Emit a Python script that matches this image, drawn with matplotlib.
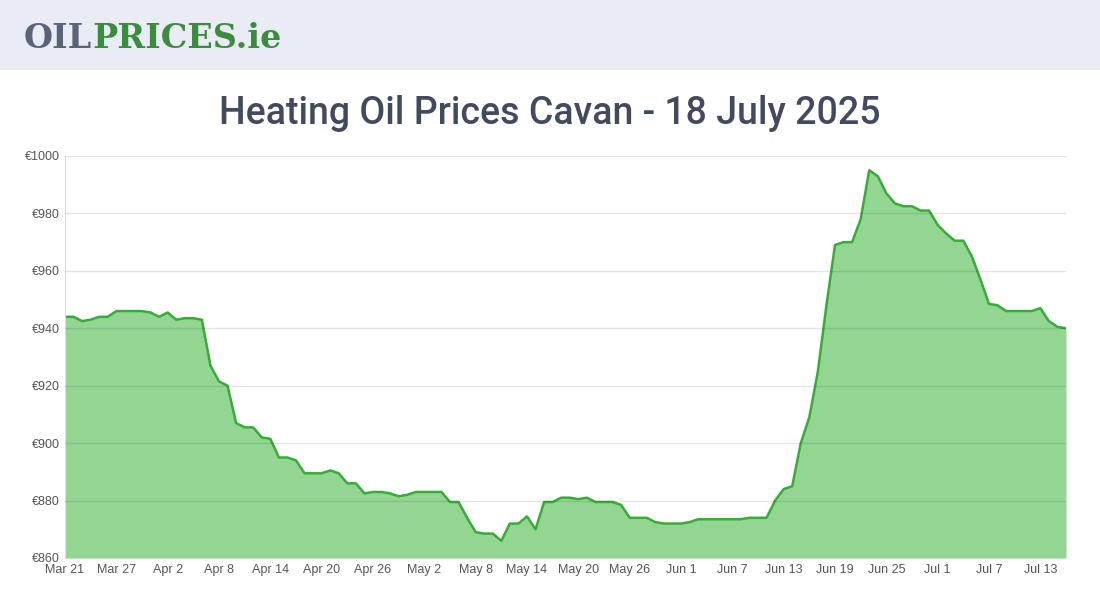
import numpy as np
import pandas as pd
import matplotlib
matplotlib.use("Agg")
import matplotlib.pyplot as plt

# daily prices, Mar 21 .. Jul 17 2025
start_date = "2025-03-21"
prices = [
    944, 944, 942.5, 943, 944, 944, 946, 946, 946, 946, 945.5, 944, 945.5, 943, 943.5, 943.5, 943,
    927, 921.5, 920, 907, 905.5, 905.5, 902, 901.5, 895, 895, 894, 889.5, 889.5, 889.5, 890.5,
    889.5, 886, 886, 882.5, 883, 883, 882.5, 881.5, 882, 883, 883, 883, 883, 879.5, 879.5,
    874, 869, 868.5, 868.5, 866, 872, 872, 874.5, 870, 879.5, 879.5, 881, 881, 880.5, 881,
    879.5, 879.5, 879.5, 878.5, 874, 874, 874, 872.5, 872, 872, 872, 872.5, 873.5, 873.5,
    873.5, 873.5, 873.5, 873.5, 874, 874, 874, 880, 884, 885, 900, 909, 925, 948, 969, 970,
    970, 978, 995, 993, 987, 983.5, 982.5, 982.5, 981, 981, 976, 973, 970.5, 970.5, 965, 957,
    948.5, 948, 946, 946, 946, 946, 947, 942.5, 940.5, 940,
]
dates = pd.date_range(start_date, periods=len(prices), freq="D")
y_ticks = [860, 880, 900, 920, 940, 960, 980, 1000]
x_ticks = dates[::6]

fig = plt.figure(figsize=(11, 6), dpi=100)

# header band with logo
band = fig.add_axes([0, 530 / 600, 1, 70 / 600])
band.set_facecolor("#e9ecf4")
band.set_xticks([])
band.set_yticks([])
for s in band.spines.values():
    s.set_visible(False)
oil = fig.text(24 / 1100, 562 / 600, "OIL", fontsize=24, fontweight="bold", family="DejaVu Serif",
               color="#5a6378", va="center")
fig.canvas.draw()
bb = oil.get_window_extent()
fig.text(bb.x1 / 1100, 562 / 600, "PRICES.ie", fontsize=24, fontweight="bold",
         family="DejaVu Serif", color="#3a8d3e", va="center")

fig.text(0.5, 486 / 600, "Heating Oil Prices Cavan - 18 July 2025", ha="center", va="center",
         fontsize=27, color="#434a5b", family="Roboto", fontweight="medium")

ax = fig.add_axes([65 / 1100, 42 / 600, 1001 / 1100, 402 / 600])
ax.fill_between(dates, prices, 860, color="#92d692", lw=0)
ax.plot(dates, prices, color="#38ac38", lw=1.8)
ax.set_ylim(860, 1000)
ax.set_xlim(dates[0], dates[-1])
ax.set_yticks(y_ticks)
ax.set_yticklabels([f"€{v}" for v in y_ticks])
ax.set_xticks(x_ticks)
ax.set_xticklabels([f"{d.strftime('%b')} {d.day}" for d in x_ticks])
ax.grid(axis="y", color="black", alpha=0.1, lw=1)
ax.set_axisbelow(False)
for s in ["top", "right", "bottom"]:
    ax.spines[s].set_visible(False)
ax.spines["left"].set_color("#dddddd")
ax.tick_params(length=0, labelsize=9, colors="#555555", pad=4)
for lab in ax.get_xticklabels() + ax.get_yticklabels():
    lab.set_family("Liberation Sans")

fig.savefig("out.png", dpi=100)
